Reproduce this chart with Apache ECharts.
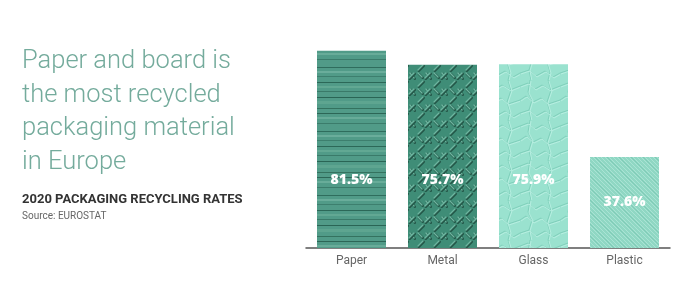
<!DOCTYPE html>
<html><head><meta charset="utf-8">
<script src="https://cdn.jsdelivr.net/npm/echarts@6/dist/echarts.min.js"></script>
<style>html,body{margin:0;padding:0;background:#fff}#c{width:700px;height:297px}</style>
</head><body><div id="c"></div>
<script>
const categories = ['Paper', 'Metal', 'Glass', 'Plastic'];
const rates = [81.5, 75.7, 75.9, 37.6];
const titleLines = ['Paper and board is', 'the most recycled', 'packaging material', 'in Europe'];
const subtitle = '2020 PACKAGING RECYCLING RATES';
const source = 'Source: EUROSTAT';

function mk(w, h, draw) {
  const c = document.createElement('canvas'); c.width = w; c.height = h;
  draw(c.getContext('2d'), w, h); return c;
}
// Paper: horizontal stripes
const paperTex = mk(8, 64, (g, w, h) => {
  g.fillStyle = '#519b88'; g.fillRect(0, 0, w, h);
  const stripes = [[3,1,'#2f6d5d'],[7,2,'#6aad9b'],[12,1,'#3d7f6e'],[18,1,'#2c6858'],[22,2,'#62a893'],[27,1,'#3a7a69'],[33,1,'#2a6555'],[37,3,'#5ea590'],[44,1,'#34725f'],[49,1,'#2c6656'],[53,2,'#68ac99'],[59,1,'#3b7c6b']];
  stripes.forEach(s => { g.fillStyle = s[2]; g.fillRect(0, s[0], w, s[1]); });
});
// Metal: diamond plate
const metalTex = mk(16, 16, (g, w, h) => {
  g.fillStyle = '#3f8d77'; g.fillRect(0, 0, w, h);
  g.lineCap = 'round';
  function bar(x1, y1, x2, y2) {
    g.strokeStyle = '#25594a'; g.lineWidth = 2.4;
    g.beginPath(); g.moveTo(x1 + 0.8, y1 + 0.8); g.lineTo(x2 + 0.8, y2 + 0.8); g.stroke();
    g.strokeStyle = '#6db59f'; g.lineWidth = 1.4;
    g.beginPath(); g.moveTo(x1, y1); g.lineTo(x2, y2); g.stroke();
  }
  bar(2, 6, 7, 1); bar(10, 9, 14, 14); bar(9, 14, 14, 9);
  bar(2, 9, 6, 13);
});
// Glass: hammered texture
const glassTex = mk(40, 40, (g, w, h) => {
  g.fillStyle = '#9ae2cf'; g.fillRect(0, 0, w, h);
  g.strokeStyle = '#80d0bb'; g.lineWidth = 1;
  const paths = [[[0,6],[8,3],[15,9],[22,5],[30,10],[40,6]],[[0,20],[6,16],[13,22],[21,18],[28,24],[40,20]],[[0,33],[9,30],[16,36],[25,31],[33,37],[40,33]],[[10,0],[8,12],[12,20],[9,30],[11,40]],[[28,0],[31,10],[27,22],[30,32],[28,40]]];
  paths.forEach(p => { g.beginPath(); g.moveTo(p[0][0], p[0][1]); for (let i = 1; i < p.length; i++) g.lineTo(p[i][0], p[i][1]); g.stroke(); });
  g.strokeStyle = '#b6eee0';
  paths.forEach(p => { g.beginPath(); g.moveTo(p[0][0] + 1, p[0][1] + 1); for (let i = 1; i < p.length; i++) g.lineTo(p[i][0] + 1, p[i][1] + 1); g.stroke(); });
});
// Plastic: diagonal brushed lines
const plasticTex = mk(12, 12, (g, w, h) => {
  g.fillStyle = '#8fd7c3'; g.fillRect(0, 0, w, h);
  g.strokeStyle = '#a9e3d4'; g.lineWidth = 1;
  for (let k = -12; k <= 12; k += 4) { g.beginPath(); g.moveTo(k, 0); g.lineTo(k + 12, 12); g.stroke(); }
  g.strokeStyle = '#7fcab6';
  g.beginPath(); g.moveTo(-6, 0); g.lineTo(6, 12); g.stroke();
  g.beginPath(); g.moveTo(6, 0); g.lineTo(18, 12); g.stroke();
});
const textures = [paperTex, metalTex, glassTex, plasticTex];

const chart = echarts.init(document.getElementById('c'));
chart.setOption({
  animation: false,
  title: [
    { text: titleLines.join('\n'), left: 22, top: 45, padding: 0,
      textStyle: { fontFamily: 'Roboto', fontWeight: 300, fontSize: 25.5, lineHeight: 33.5, color: '#74ab9c' } },
    { text: subtitle, left: 22, top: 193, padding: 0,
      textStyle: { fontFamily: 'Roboto', fontWeight: 'bold', fontSize: 13, color: '#333' } },
    { text: source, left: 22, top: 211, padding: 0,
      textStyle: { fontFamily: 'Roboto', fontWeight: 'normal', fontSize: 10, color: '#666' } }
  ],
  grid: { left: 306, right: 30, top: 6, bottom: 49, containLabel: false },
  xAxis: {
    type: 'category', data: categories,
    axisLine: { lineStyle: { color: '#555', width: 1.5 } },
    axisTick: { show: false },
    axisLabel: { fontFamily: 'Roboto', fontSize: 12, color: '#666', margin: 7 }
  },
  yAxis: { type: 'value', min: 0, max: 100, show: false, splitLine: { show: false } },
  series: [{
    type: 'bar', barWidth: 69,
    data: rates.map((v, i) => ({
      value: v,
      itemStyle: { color: { image: textures[i], repeat: 'repeat' } },
      label: i === 3 ? { position: 'inside' } : {}
    })),
    label: {
      show: true, position: 'insideBottom', distance: 61,
      formatter: p => p.value.toFixed(1) + '%',
      fontFamily: 'Open Sans', fontWeight: 800, fontSize: 14, color: '#fff'
    }
  }]
});
</script></body></html>
